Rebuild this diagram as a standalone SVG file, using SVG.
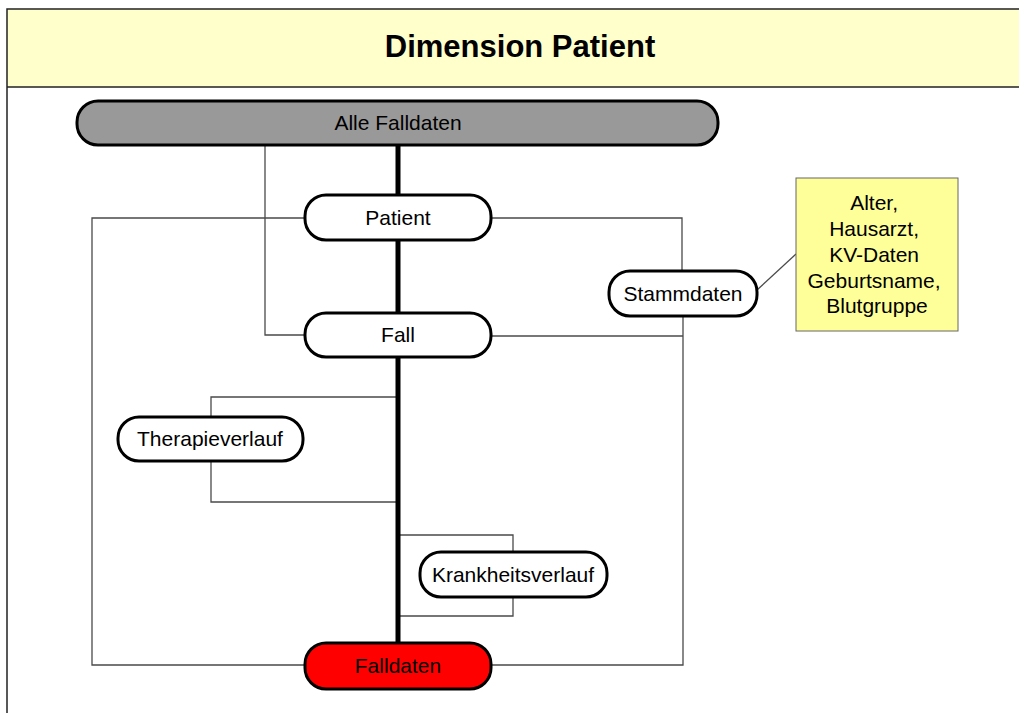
<svg xmlns="http://www.w3.org/2000/svg" width="1019" height="713" viewBox="0 0 1019 713">
  <style>
    .frame { stroke: #222; stroke-width: 1.5; fill: none; }
    .node { stroke: #000; stroke-width: 3; fill: #fff; }
    .label { font-family: "Liberation Sans", Arial, sans-serif; font-size: 21px; fill: #000; text-anchor: middle; }
    .title { font-family: "Liberation Sans", Arial, sans-serif; font-size: 31px; font-weight: bold; fill: #000; text-anchor: middle; }
    .thin { stroke: #4a4a4a; stroke-width: 1.3; fill: none; }
    .thick { stroke: #000; stroke-width: 5; fill: none; }
  </style>

  <!-- page background and header band -->
  <rect x="0" y="0" width="1019" height="713" fill="#fff"/>
  <rect x="7" y="9" width="1012" height="78" fill="#ffffcc"/>
  <path class="frame" d="M1019 9 H7 V713 M7 87 H1019"/>
  <text class="title" x="520" y="57">Dimension Patient</text>

  <!-- connectors -->
  <g id="connectors">
    <path class="thin" d="M265 145 V335 H305"/>
    <path class="thin" d="M305 218 H92 V665 H305"/>
    <path class="thin" d="M491 218 H682 V271"/>
    <path class="thin" d="M491 336 H683"/>
    <path class="thin" d="M683 316 V665 H491"/>
    <path class="thin" d="M757 290 L796 254"/>
    <path class="thin" d="M398 397 H211 V417 M211 461 V502 H398"/>
    <path class="thin" d="M398 535 H513 V552 M513 597 V616 H398"/>
    <path class="thick" d="M398 145 V195 M398 240 V313 M398 357 V643"/>
  </g>

  <g id="alle-falldaten">
    <rect class="node" x="77" y="101" width="641" height="44" rx="21" fill="#999999" style="fill:#999999"/>
    <text class="label" x="398" y="130">Alle Falldaten</text>
  </g>

  <g id="patient">
    <rect class="node" x="305" y="195" width="186" height="45" rx="21"/>
    <text class="label" x="398" y="225">Patient</text>
  </g>

  <g id="fall">
    <rect class="node" x="305" y="313" width="186" height="44" rx="21"/>
    <text class="label" x="398" y="342">Fall</text>
  </g>

  <g id="stammdaten">
    <rect class="node" x="609" y="271" width="148" height="45" rx="21"/>
    <text class="label" x="683" y="301">Stammdaten</text>
  </g>

  <g id="stammdaten-attribute">
    <rect x="796" y="178" width="162" height="153" fill="#ffff99" stroke="#666" stroke-width="1"/>
    <text class="label" x="877">
      <tspan x="877" y="210">Alter,</tspan>
      <tspan x="877" y="236">Hausarzt,</tspan>
      <tspan x="877" y="262">KV-Daten</tspan>
      <tspan x="877" y="288">Geburtsname,</tspan>
      <tspan x="877" y="313">Blutgruppe</tspan>
    </text>
  </g>

  <g id="therapieverlauf">
    <rect class="node" x="118" y="417" width="185" height="44" rx="21"/>
    <text class="label" x="210" y="446">Therapieverlauf</text>
  </g>

  <g id="krankheitsverlauf">
    <rect class="node" x="420" y="552" width="187" height="45" rx="21"/>
    <text class="label" x="513" y="582">Krankheitsverlauf</text>
  </g>

  <g id="falldaten">
    <rect class="node" x="305" y="643" width="186" height="46" rx="21" style="fill:#ff0000"/>
    <text class="label" x="398" y="673">Falldaten</text>
  </g>
</svg>
